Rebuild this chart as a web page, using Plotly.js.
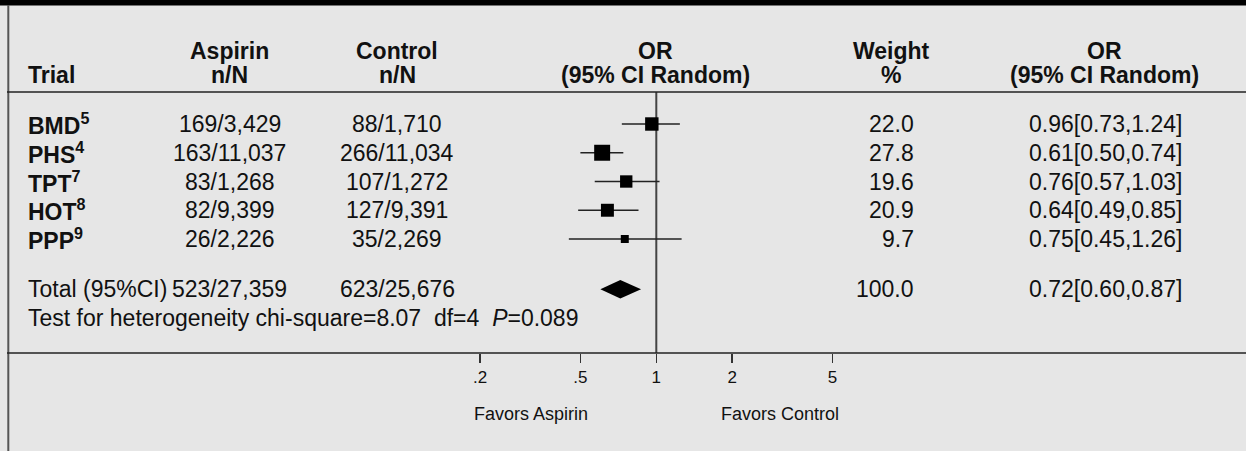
<!DOCTYPE html>
<html>
<head>
<meta charset="utf-8">
<script src="https://cdn.plot.ly/plotly-3.0.1.min.js"></script>
<style>html,body{margin:0;padding:0;background:#e6e6e6;}</style>
</head>
<body>
<div id="chart" style="width:1246px;height:451px;"></div>
<script>
// ---- data ----
const trials = ['BMD', 'PHS', 'TPT', 'HOT', 'PPP'];
const refNums = ['5', '4', '7', '8', '9'];
const aspirinEvents = [169, 163, 83, 82, 26];
const aspirinTotals = [3429, 11037, 1268, 9399, 2226];
const controlEvents = [88, 266, 107, 127, 35];
const controlTotals = [1710, 11034, 1272, 9391, 2269];
const weights = [22.0, 27.8, 19.6, 20.9, 9.7];
const oddsRatios = [0.96, 0.61, 0.76, 0.64, 0.75];
const ciLow = [0.73, 0.50, 0.57, 0.49, 0.45];
const ciHigh = [1.24, 0.74, 1.03, 0.85, 1.26];
const totalAspirin = [523, 27359];
const totalControl = [623, 25676];
const totalWeight = 100.0;
const totalOR = [0.72, 0.60, 0.87];
const heterogeneity = {chi2: '8.07', df: '4', p: '0.089'};
const tickVals = [0.2, 0.5, 1, 2, 5];
const tickLabels = ['.2', '.5', '1', '2', '5'];

// ---- layout helpers ----
const W = 1246, H = 451;
const FONT = 'Liberation Sans, Arial, Helvetica, sans-serif';
const px = x => x / W;
const py = y => 1 - y / H;
const rowPx0 = 124, rowStep = 28.75;
const headerLinePx = 92, axisLinePx = 353;
const trialRows = trials.map((_, i) => i);
const totalRow = trials.length + 0.75;
const testRow = trials.length + 1.75;
const fmt = n => n.toLocaleString('en-US');
const nbsp = '\u00A0';
const BODY = 23;

const plotLeft = 440, plotRight = 880, x0 = 656.3, pxPerDecade = 252.2;

const traces = [
  // confidence intervals
  {
    type: 'scatter', mode: 'markers',
    x: oddsRatios, y: trialRows,
    marker: {size: 1, color: 'rgba(0,0,0,0)'},
    error_x: {type: 'data', symmetric: false,
      array: oddsRatios.map((v, i) => ciHigh[i] - v),
      arrayminus: oddsRatios.map((v, i) => v - ciLow[i]),
      width: 0, thickness: 1.3, color: '#222'},
    hoverinfo: 'skip', showlegend: false
  },
  // weighted squares
  {
    type: 'scatter', mode: 'markers',
    x: oddsRatios, y: trialRows, opacity: 1,
    marker: {symbol: 'square', color: '#000000', opacity: 1,
      size: weights.map(w => 3.7 + 0.442 * w), line: {width: 0, color: '#000000'}},
    hoverinfo: 'skip', showlegend: false
  },
  // pooled diamond
  {
    type: 'scatter', mode: 'lines',
    x: [totalOR[1], totalOR[0], totalOR[2], totalOR[0], totalOR[1]],
    y: [totalRow, totalRow - 0.32, totalRow, totalRow + 0.32, totalRow],
    fill: 'toself', fillcolor: '#000', line: {width: 0, color: '#000'},
    hoverinfo: 'skip', showlegend: false
  }
];

const ann = [];
function addText(text, x, y, opts) {
  ann.push(Object.assign({
    text: text, x: px(x), xref: 'paper', y: y, yref: 'y',
    showarrow: false, xanchor: 'center', yanchor: 'middle',
    font: {family: FONT, size: BODY, color: '#111'}
  }, opts || {}));
}
function addHeader(text, x, yPx) {
  addText('<b>' + text + '</b>', x, py(yPx), {yref: 'paper'});
}

// headers
addText('<b>Trial</b>', 26, py(75), {yref: 'paper', xanchor: 'left'});
addHeader('Aspirin', 230, 51); addHeader('n/N', 230, 75);
addHeader('Control', 397, 51); addHeader('n/N', 397, 75);
addHeader('OR', 655, 51); addHeader('(95% CI Random)', 655, 75);
addHeader('Weight', 891, 51); addHeader('%', 891, 75);
addHeader('OR', 1104, 51); addHeader('(95% CI Random)', 1104, 75);

// trial rows
trials.forEach((t, i) => {
  addText('<b>' + t + '<sup>' + refNums[i] + '</sup></b>', 26, trialRows[i], {xanchor: 'left'});
  addText(aspirinEvents[i] + '/' + fmt(aspirinTotals[i]), 230, trialRows[i]);
  addText(controlEvents[i] + '/' + fmt(controlTotals[i]), 397, trialRows[i]);
  addText(weights[i].toFixed(1), 916, trialRows[i], {xanchor: 'right'});
  addText(oddsRatios[i].toFixed(2) + '[' + ciLow[i].toFixed(2) + ',' + ciHigh[i].toFixed(2) + ']', 1105, trialRows[i]);
});

// total row
addText('Total (95%CI)', 26, totalRow, {xanchor: 'left'});
addText(totalAspirin[0] + '/' + fmt(totalAspirin[1]), 230, totalRow);
addText(totalControl[0] + '/' + fmt(totalControl[1]), 397, totalRow);
addText(totalWeight.toFixed(1), 916, totalRow, {xanchor: 'right'});
addText(totalOR[0].toFixed(2) + '[' + totalOR[1].toFixed(2) + ',' + totalOR[2].toFixed(2) + ']', 1105, totalRow);

// heterogeneity
addText('Test for heterogeneity chi-square=' + heterogeneity.chi2 + nbsp + nbsp + 'df=' + heterogeneity.df +
  nbsp + nbsp + '<i>P</i>=' + heterogeneity.p, 26, testRow, {xanchor: 'left'});

// favors labels
addText('Favors Aspirin', 531, py(414), {yref: 'paper', font: {family: FONT, size: 18, color: '#111'}});
addText('Favors Control', 780, py(414), {yref: 'paper', font: {family: FONT, size: 18, color: '#111'}});

const shapes = [
  // top black bar
  {type: 'rect', xref: 'paper', yref: 'paper', x0: 0, x1: 1, y0: py(5.5), y1: 1, fillcolor: '#000', line: {width: 0}},
  // left border
  {type: 'line', xref: 'paper', yref: 'paper', x0: px(8.3), x1: px(8.3), y0: 0, y1: py(5), line: {color: '#555', width: 2}},
  // header rule
  {type: 'line', xref: 'paper', yref: 'y domain', x0: px(7), x1: 1, y0: 1, y1: 1, line: {color: '#222', width: 1.5}},
  // axis rule
  {type: 'line', xref: 'paper', yref: 'y domain', x0: px(7), x1: 1, y0: 0, y1: 0, line: {color: '#222', width: 1.5}},
  // line of no effect
  {type: 'line', xref: 'x', yref: 'y domain', x0: 1, x1: 1, y0: 0, y1: 1, line: {color: '#444', width: 2}, layer: 'below'}
];

const layout = {
  width: W, height: H,
  margin: {l: 0, r: 0, t: 0, b: 0},
  paper_bgcolor: '#e6e6e6', plot_bgcolor: 'rgba(0,0,0,0)',
  showlegend: false,
  xaxis: {
    type: 'log', domain: [px(plotLeft), px(plotRight)],
    range: [(plotLeft - x0) / pxPerDecade, (plotRight - x0) / pxPerDecade],
    tickvals: tickVals, ticktext: tickLabels,
    ticks: 'outside', ticklen: 9, tickwidth: 1.5, tickcolor: '#333',
    tickfont: {family: FONT, size: 17, color: '#111'},
    showgrid: false, zeroline: false, showline: false, fixedrange: true
  },
  yaxis: {
    domain: [py(axisLinePx), py(headerLinePx)],
    range: [(axisLinePx - rowPx0) / rowStep, (headerLinePx - rowPx0) / rowStep],
    visible: false, fixedrange: true
  },
  annotations: ann,
  shapes: shapes
};

Plotly.newPlot('chart', traces, layout, {displayModeBar: false, staticPlot: true});
</script>
</body>
</html>
